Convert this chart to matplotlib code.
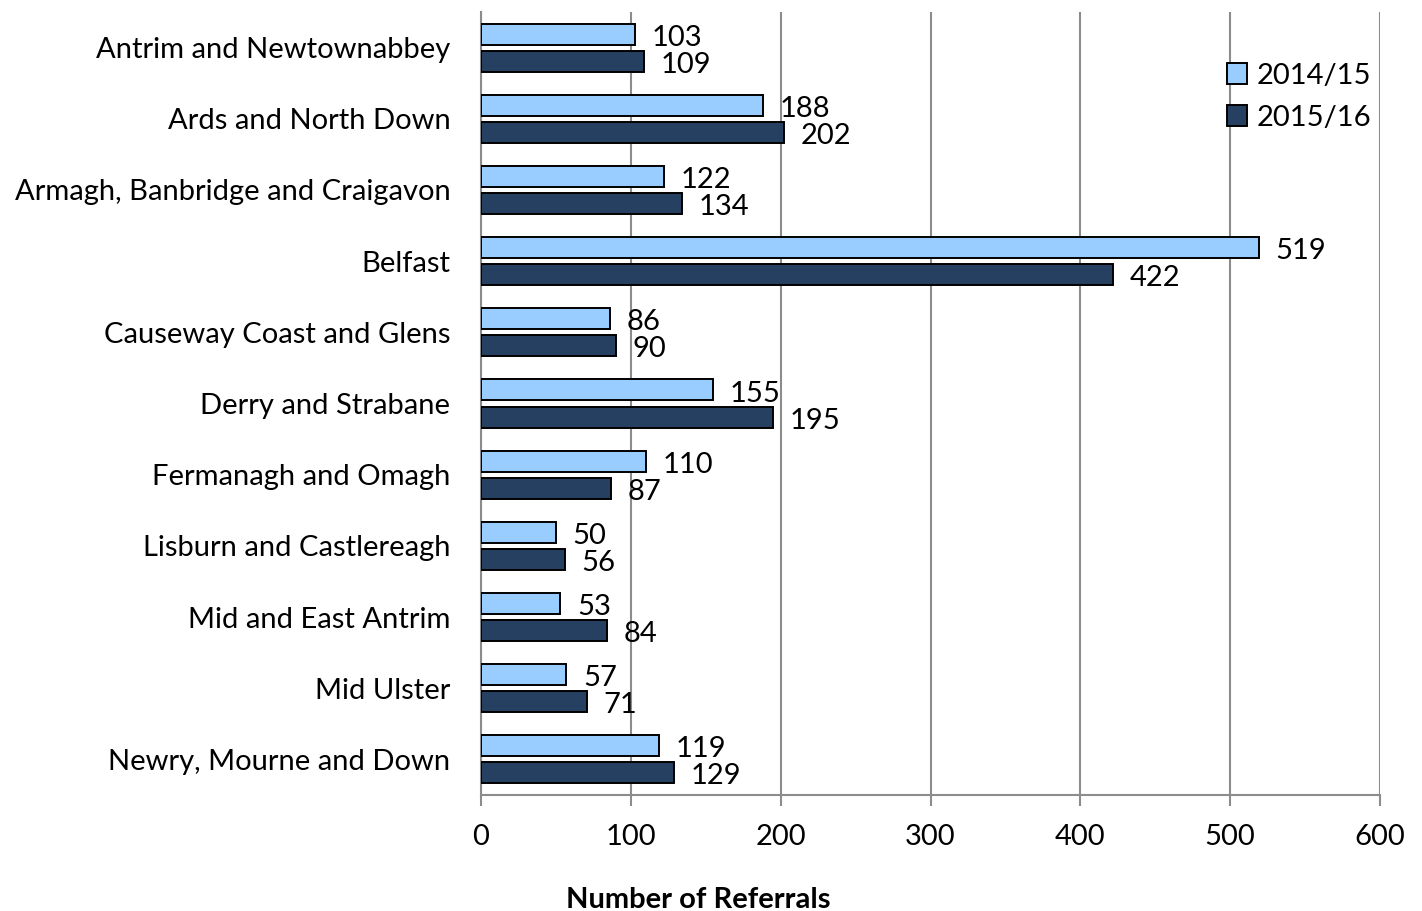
import matplotlib
matplotlib.use("Agg")
import matplotlib.pyplot as plt
import numpy as np

areas = [
    "Antrim and Newtownabbey",
    "Ards and North Down",
    "Armagh, Banbridge and Craigavon",
    "Belfast",
    "Causeway Coast and Glens",
    "Derry and Strabane",
    "Fermanagh and Omagh",
    "Lisburn and Castlereagh",
    "Mid and East Antrim",
    "Mid Ulster",
    "Newry, Mourne and Down",
]
referrals_2014 = [103, 188, 122, 519, 86, 155, 110, 50, 53, 57, 119]
referrals_2015 = [109, 202, 134, 422, 90, 195, 87, 56, 84, 71, 129]
series_names = ["2014/15", "2015/16"]
x_ticks = [0, 100, 200, 300, 400, 500, 600]

plt.rcParams["font.family"] = ["Lato", "DejaVu Sans"]
FS = 21
GRID = "#8c8c8c"

fig = plt.figure(figsize=(14.22, 9.11), dpi=100)
ax = fig.add_axes([481 / 1422, 1 - 795 / 911, (1380 - 481) / 1422, (795 - 12) / 911])

n = len(areas)
y = np.arange(n)
h = 0.295
off = 0.19
ax.barh(y - off, referrals_2014, height=h, color="#99CCFF",
        edgecolor="black", linewidth=1.4, label=series_names[0], zorder=3)
ax.barh(y + off, referrals_2015, height=h, color="#254061",
        edgecolor="black", linewidth=1.4, label=series_names[1], zorder=3)

for yy, v in zip(y - off, referrals_2014):
    ax.text(v + 11, yy + 0.05, str(v), va="center", ha="left", fontsize=FS)
for yy, v in zip(y + off, referrals_2015):
    ax.text(v + 11, yy + 0.05, str(v), va="center", ha="left", fontsize=FS)

ax.set_ylim(n - 0.5, -0.5)
ax.set_xlim(0, 600)
ax.set_yticks(y)
ax.set_yticklabels(areas, fontsize=FS)
ax.tick_params(axis="y", length=0, pad=22)
ax.set_xticks(x_ticks)
ax.set_xticklabels([str(t) for t in x_ticks], fontsize=FS)
ax.tick_params(axis="x", length=8, color=GRID, width=1.5, pad=13)

ax.grid(axis="x", color=GRID, linewidth=1.5, zorder=0)
ax.set_axisbelow(True)
for s in ["top", "right"]:
    ax.spines[s].set_visible(False)
for s in ["left", "bottom"]:
    ax.spines[s].set_color(GRID)
    ax.spines[s].set_linewidth(1.5)

ax.legend(loc="upper right", bbox_to_anchor=(1.019, 0.969), frameon=False,
          fontsize=FS, handlelength=0.7, handleheight=0.7,
          handletextpad=0.3, labelspacing=0.55)

fig.text(698 / 1422, 1 - 900 / 911, "Number of Referrals", ha="center",
         va="center", fontsize=FS, fontweight="bold")

fig.savefig("out.png", dpi=100)
